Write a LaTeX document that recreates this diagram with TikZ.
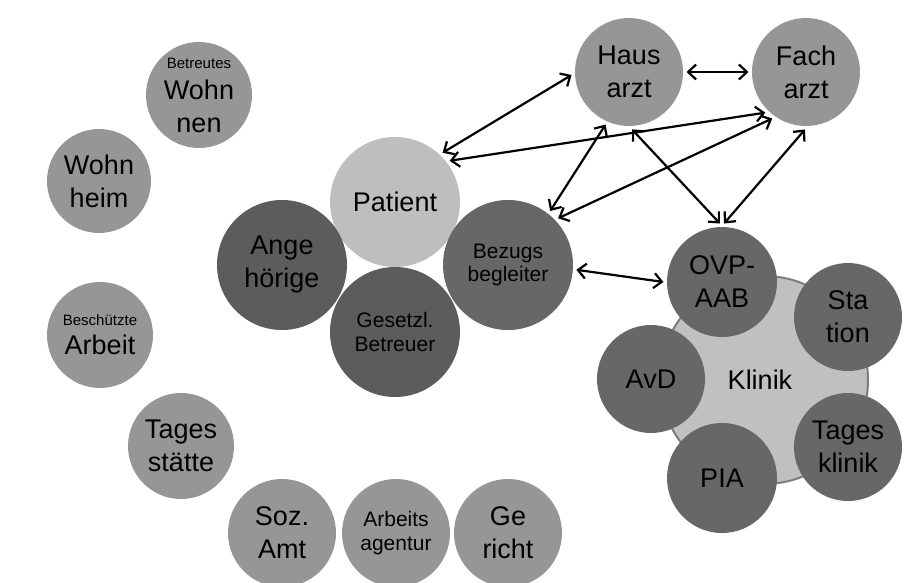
\documentclass[tikz,border=0pt]{standalone}
\usepackage{fontspec}
\setmainfont{Liberation Sans}
\usetikzlibrary{arrows.meta}
\definecolor{outer}{RGB}{150,150,150}
\definecolor{pat}{RGB}{190,190,190}
\definecolor{dark}{RGB}{92,92,92}
\definecolor{mid}{RGB}{103,103,103}
\definecolor{klin}{RGB}{192,192,192}
\definecolor{klinb}{RGB}{125,125,125}
\newcommand\fbig{\fontsize{27}{33}\selectfont}
\newcommand\fmed{\fontsize{21}{23.5}\selectfont}
\newcommand\fsml{\fontsize{15}{18}\selectfont}
\begin{document}
\begin{tikzpicture}[x=1pt,y=-1pt,
  bub/.style={circle, inner sep=0pt, outer sep=3.5pt, minimum size=#1pt, align=center, font=\fbig},
  arr/.style={line width=2.2pt, >={Straight Barb[length=8pt,width=15pt]}, <->}]
\useasboundingbox (0,0) rectangle (908,583);
% outer institutions
\node[bub=106, fill=outer, inner sep=-12pt] (betreut) at (199,95) {{\fsml Betreutes}\\[-2pt]Wohn\\nen};
\node[bub=104, fill=outer] (wohnheim) at (99,181) {Wohn\\heim};
\node[bub=106, fill=outer] (beschuetzt) at (100,335) {{\fsml Beschützte}\\[-4pt]Arbeit};
\node[bub=106, fill=outer] (tagesst) at (181,446) {Tages\\stätte};
\node[bub=108, fill=outer] (soz) at (282,533) {Soz.\\Amt};
\node[bub=108, fill=outer, font=\fmed] (arbeit) at (396,533) {Arbeits\\agentur};
\node[bub=108, fill=outer] (gericht) at (508,533) {Ge\\richt};
% patient group
\node[bub=130, fill=pat] (patient) at (395,202) {Patient};
\node[bub=130, fill=dark] (angeh) at (282,265) {Ange\\hörige};
\node[bub=130, fill=mid, font=\fmed] (bezugs) at (508,265) {Bezugs\\begleiter};
\node[bub=130, fill=dark, font=\fmed] (gesetzl) at (395,332) {Gesetzl.\\Betreuer};
% doctors
\node[bub=108, fill=outer] (haus) at (629,72) {Haus\\arzt};
\node[bub=108, fill=outer] (fach) at (806,72) {Fach\\arzt};
% clinic
\node[circle, inner sep=0pt, minimum size=208pt, draw=klinb, line width=2pt, fill=klin, font=\fbig] (klinik) at (764,380) {\kern-8pt Klinik};
\node[bub=110, fill=mid] (ovp) at (722,282) {OVP-\\AAB};
\node[bub=108, fill=mid] (station) at (848,317) {Sta\\tion};
\node[bub=108, fill=mid] (avd) at (651,379) {AvD};
\node[bub=108, fill=mid] (tagesk) at (848,447) {Tages\\klinik};
\node[bub=110, fill=mid] (pia) at (722,478) {PIA};
% connectors
\draw[arr] (haus.0) -- (fach.180);
\draw[arr] (haus.183) -- (patient.46);
\draw[arr] (fach.225) -- (patient.37);
\draw[arr] (haus.246) -- (bezugs.52);
\draw[arr] (fach.234) -- (bezugs.43);
\draw[arr] (haus.273) -- (ovp.92);
\draw[arr] (fach.269) -- (ovp.88);
\draw[arr] (bezugs.356) -- (ovp.180);
\end{tikzpicture}
\end{document}
